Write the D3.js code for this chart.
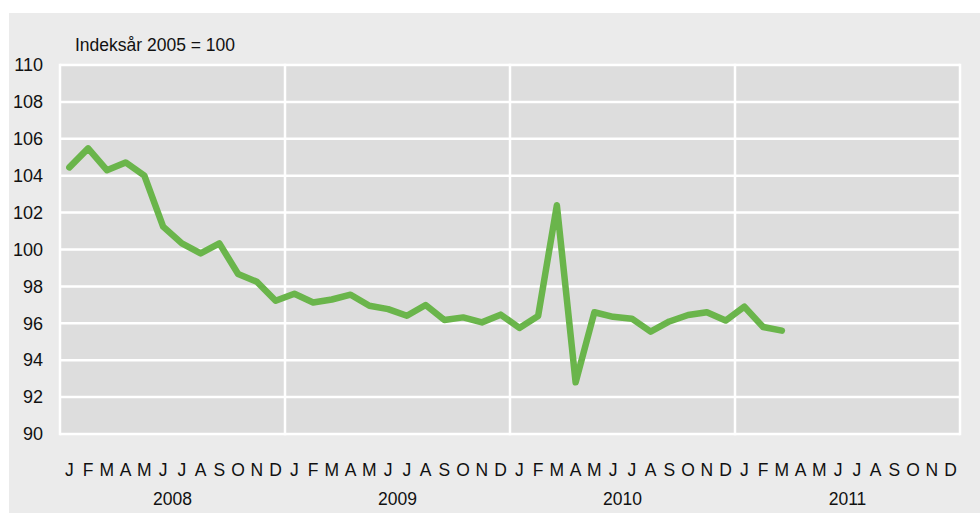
<!DOCTYPE html>
<html>
<head>
<meta charset="utf-8">
<script src="https://cdn.jsdelivr.net/npm/d3@7"></script>
<style>
  html, body { margin: 0; padding: 0; background: #ffffff; }
  svg text { font-family: "Liberation Sans", Arial, sans-serif; fill: #111; }
</style>
</head>
<body>
<svg id="chart" width="980" height="513"></svg>
<script>
// ---- data ----
const years = ["2008", "2009", "2010", "2011"];
const monthLabels = ["J","F","M","A","M","J","J","A","S","O","N","D"];
const yTicks = [90, 92, 94, 96, 98, 100, 102, 104, 106, 108, 110];
const unitLabel = "Indeksår 2005 = 100";
const values2008 = [104.45, 105.48, 104.3, 104.72, 104.0, 101.24, 100.33, 99.79, 100.33, 98.67, 98.25, 97.22];
const values2009 = [97.6, 97.13, 97.29, 97.55, 96.95, 96.77, 96.41, 96.99, 96.18, 96.32, 96.05, 96.47];
const values2010 = [95.75, 96.4, 102.4, 92.8, 96.6, 96.35, 96.25, 95.55, 96.1, 96.45, 96.6, 96.15];
const values2011 = [96.9, 95.8, 95.6];

const series = [].concat(values2008, values2009, values2010, values2011);
const nMonths = years.length * 12;

// ---- layout ----
const W = 980, H = 513;
const plot = { left: 60, right: 960, top: 65, bottom: 434 };

const svg = d3.select("#chart");

// outer panel
svg.append("rect").attr("x", 9).attr("y", 13).attr("width", W - 9).attr("height", H - 13)
  .attr("fill", "#ebebeb");

const x = d3.scaleLinear().domain([0, nMonths]).range([plot.left, plot.right]);
const y = d3.scaleLinear().domain([90, 110]).range([plot.bottom, plot.top]);

// plot background
svg.append("rect")
  .attr("x", x(0)).attr("y", y(110))
  .attr("width", x(nMonths) - x(0)).attr("height", y(90) - y(110))
  .attr("fill", "#dddddd");

// horizontal gridlines
svg.append("g").selectAll("line").data(yTicks).join("line")
  .attr("x1", x(0)).attr("x2", x(nMonths))
  .attr("y1", d => y(d)).attr("y2", d => y(d))
  .attr("stroke", "#ffffff").attr("stroke-width", 2.5);

// vertical lines at year boundaries + edges
svg.append("g").selectAll("line").data(d3.range(0, years.length + 1)).join("line")
  .attr("x1", d => x(d * 12)).attr("x2", d => x(d * 12))
  .attr("y1", y(110) - 1.25).attr("y2", y(90) + 1.25)
  .attr("stroke", "#ffffff").attr("stroke-width", 2.5);

// y axis labels
const yAxis = d3.axisLeft(y).tickValues(yTicks).tickSize(0).tickPadding(0);
const gy = svg.append("g").attr("transform", `translate(${plot.left - 17},0)`).call(yAxis);
gy.select(".domain").remove();
gy.selectAll("text").attr("font-size", 18).attr("fill", "#111")
  .attr("font-family", "Liberation Sans, Arial, sans-serif");

// unit label
svg.append("text").attr("x", 75).attr("y", 51).attr("font-size", 17.5).text(unitLabel);

// month labels
const monthData = d3.range(nMonths).map(i => ({ i, label: monthLabels[i % 12] }));
svg.append("g").selectAll("text").data(monthData).join("text")
  .attr("x", d => x(d.i + 0.5)).attr("y", 476)
  .attr("text-anchor", "middle").attr("font-size", 17.5)
  .text(d => d.label);

// year labels
svg.append("g").selectAll("text").data(years).join("text")
  .attr("x", (d, i) => x(i * 12 + 6)).attr("y", 505)
  .attr("text-anchor", "middle").attr("font-size", 17.5)
  .text(d => d);

// line
const line = d3.line().x((d, i) => x(i + 0.5)).y(d => y(d));
svg.append("path").datum(series)
  .attr("d", line)
  .attr("fill", "none")
  .attr("stroke", "#6ab54b")
  .attr("stroke-width", 6.5)
  .attr("stroke-linejoin", "round")
  .attr("stroke-linecap", "round");
</script>
</body>
</html>
